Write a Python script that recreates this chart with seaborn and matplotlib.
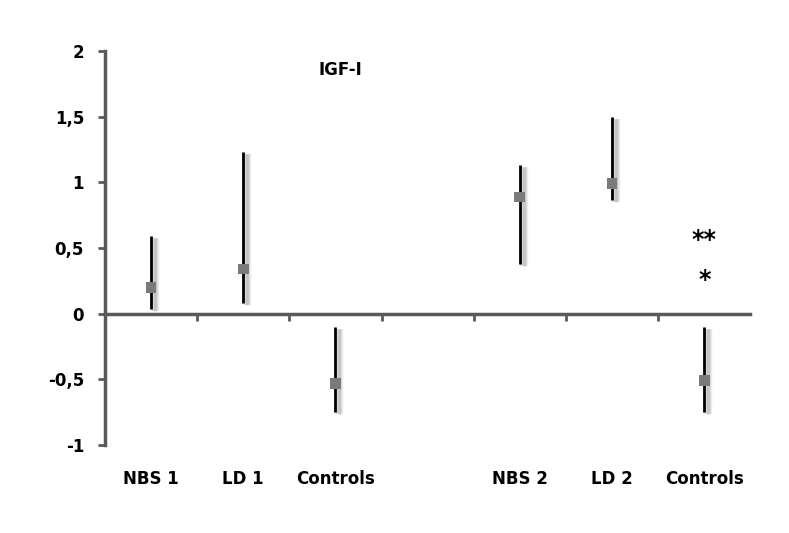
import matplotlib
matplotlib.use('Agg')
import matplotlib.pyplot as plt
import matplotlib.transforms as mtransforms
import numpy as np
import pandas as pd
import seaborn as sns

# ── Data ─────────────────────────────────────────────────────────────────────
categories = ['NBS 1', 'LD 1', 'Controls', '', 'NBS 2', 'LD 2', 'Controls']
groups     = ['NBS 1', 'LD 1', 'Controls', 'NBS 2', 'LD 2', 'Controls']
positions  = [0, 1, 2, 4, 5, 6]
values     = [0.20, 0.34, -0.53, 0.89, 0.99, -0.51]
upper      = [0.59, 1.23, -0.10, 1.13, 1.50, -0.10]
lower      = [0.04, 0.08, -0.75, 0.38, 0.87, -0.75]
stars      = [('**', 6, 0.56), ('*', 6, 0.26)]
y_ticks    = [-1, -0.5, 0, 0.5, 1, 1.5, 2]
y_labels   = ['-1', '-0,5', '0', '0,5', '1', '1,5', '2']

AXIS_GREY = '#595959'

df = pd.DataFrame({'pos': positions, 'value': values,
                   'upper': upper, 'lower': lower, 'group': groups})

sns.set_style('white')
plt.rcParams['font.family'] = ['DejaVu Sans']
plt.rcParams['text.color'] = 'black'

fig = plt.figure(figsize=(7.89, 5.33), dpi=100)
ax = fig.add_axes([0.133, 0.165, 0.818, 0.739])

# soft blurred shadow to the right of each bar
for dx, lw, a in [(4, 6, 0.25), (4, 4, 0.35), (4, 2, 0.45)]:
    shadow = mtransforms.offset_copy(ax.transData, fig=fig, x=dx, y=-2, units='dots')
    ax.vlines(df['pos'], df['lower'], df['upper'], color='#b0b0b0', lw=lw,
              alpha=a, transform=shadow, zorder=1)
ax.vlines(df['pos'], df['lower'], df['upper'], color='black', lw=2, zorder=2)
sns.scatterplot(data=df, x='pos', y='value', marker='s', s=60,
                color='#7a7a7a', edgecolor='none', ax=ax, zorder=3, legend=False)

for txt, x, y in stars:
    ax.text(x, y, txt, ha='center', va='center', fontsize=17, fontweight='bold',
            color='black')

ax.text(2.05, 1.86, 'IGF-I', ha='center', va='center', fontsize=12,
        fontweight='bold', color='black')

ax.set_xlim(-0.5, 6.5)
ax.set_ylim(-1, 2)
ax.set_xlabel('')
ax.set_ylabel('')

# y axis
ax.set_yticks(y_ticks)
ax.set_yticklabels(y_labels, fontsize=12, fontweight='bold', color='black')
ax.tick_params(axis='y', left=True, direction='out', length=5, width=2,
               color=AXIS_GREY, pad=10)

# x axis crossing at zero, ticks between categories
for s in ['top', 'right']:
    ax.spines[s].set_visible(False)
ax.spines['left'].set_color(AXIS_GREY)
ax.spines['left'].set_linewidth(2.5)
ax.spines['bottom'].set_position(('data', 0))
ax.spines['bottom'].set_color(AXIS_GREY)
ax.spines['bottom'].set_linewidth(2.5)
ax.set_xticks(np.arange(0.5, 6.5, 1))
ax.set_xticklabels([])
ax.tick_params(axis='x', bottom=True, direction='out', length=5, width=2,
               color=AXIS_GREY)

label_tr = mtransforms.blended_transform_factory(ax.transData, ax.transAxes)
for i, lab in enumerate(categories):
    ax.text(i, -0.085, lab, transform=label_tr, ha='center', va='center',
            fontsize=12, fontweight='bold', color='black')

fig.savefig('out.png', dpi=100)
